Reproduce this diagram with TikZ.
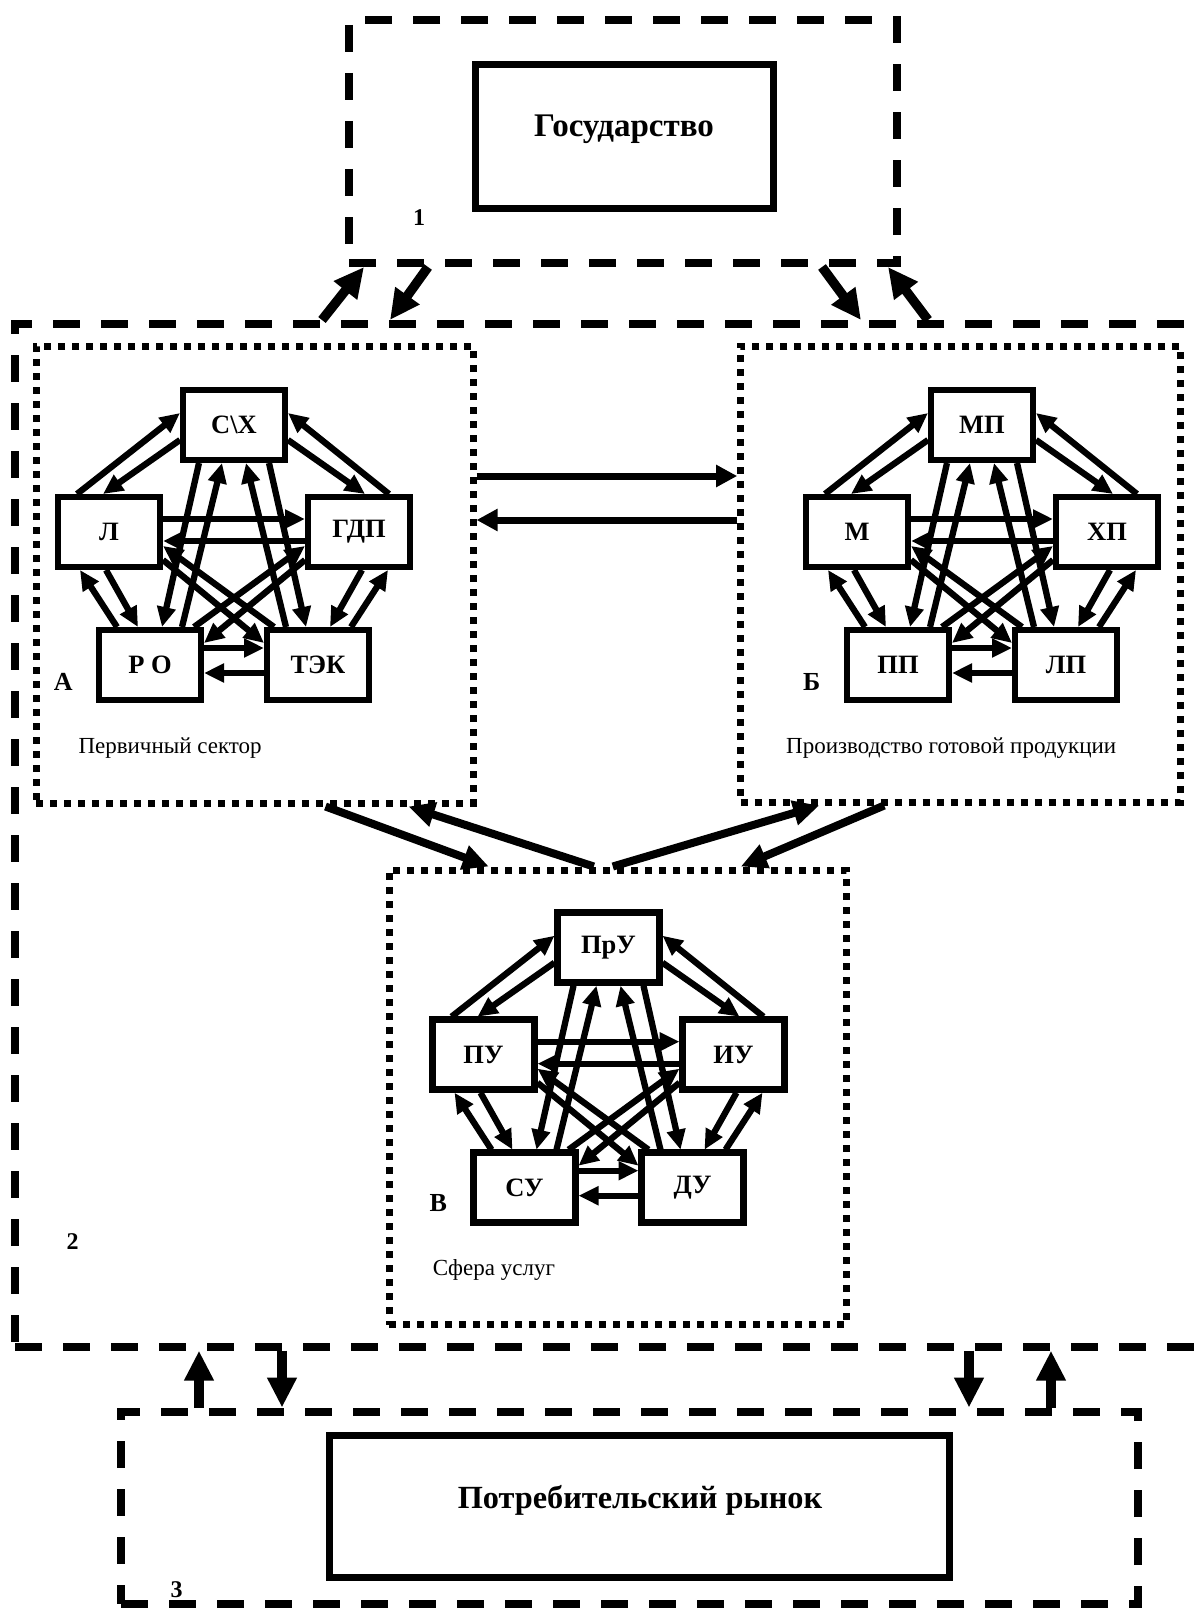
\documentclass[tikz,border=0pt]{standalone}
\usepackage{fontspec}
\setmainfont{Liberation Serif}
\usetikzlibrary{arrows.meta}

\tikzset{
  dashbox/.style={draw, line width=8pt, dash pattern=on 27pt off 21pt, inner sep=0pt},
  dotbox/.style={draw, line width=7pt, dash pattern=on 7pt off 7pt, inner sep=0pt},
  solidbox/.style={draw, line width=7pt, inner sep=0pt},
  unit/.style={draw, line width=6.5pt, minimum width=102pt, minimum height=70pt,
    inner sep=0pt, font=\fontsize{26.5}{31}\selectfont\bfseries},
  parr/.style={line width=6.3pt, -{Triangle[length=20pt,width=18pt]}},
  harr/.style={line width=7pt, -{Triangle[length=21pt,width=21pt]}},
  midarr/.style={line width=8pt, -{Triangle[length=26pt,width=24pt]}},
  bigarr/.style={line width=9.5pt, -{Triangle[length=30pt,width=28pt]}},
  bigtitle/.style={inner sep=0pt, anchor=base, font=\fontsize{33}{38}\selectfont\bfseries},
  levelno/.style={inner sep=0pt, font=\fontsize{24}{28}\selectfont\bfseries},
  groupno/.style={inner sep=0pt, font=\fontsize{26}{30}\selectfont\bfseries},
  caption/.style={inner sep=0pt, anchor=base west, font=\fontsize{23}{27}\selectfont},
}

% five branches of one sector, every pair linked both ways
% #1 name prefix, #2 centre of the top box, #3..#7 labels (top, left, right, bottom left, bottom right)
\newcommand\pentagroup[7]{%
  \node[unit] (#1t) at (#2) {#3};
  \node[unit] (#1l) at ([shift={(-125,107)}]#2) {#4};
  \node[unit] (#1r) at ([shift={(125,107)}]#2) {#5};
  \node[unit] (#1a) at ([shift={(-84,240)}]#2) {#6};
  \node[unit] (#1b) at ([shift={(84,240)}]#2) {#7};
  % top <-> left
  \draw[parr] ([shift={(-32,-38)}]#1l.center) -- ([shift={(-54,-12)}]#1t.center);
  \draw[parr] ([shift={(-54,15)}]#1t.center) -- ([shift={(-6,-38)}]#1l.center);
  % top <-> right
  \draw[parr] ([shift={(30,-38)}]#1r.center) -- ([shift={(54,-12)}]#1t.center);
  \draw[parr] ([shift={(54,15)}]#1t.center) -- ([shift={(6,-38)}]#1r.center);
  % left <-> bottom left
  \draw[parr] ([shift={(-33,-38)}]#1a.center) -- ([shift={(-29,38)}]#1l.center);
  \draw[parr] ([shift={(-3,38)}]#1l.center) -- ([shift={(-12,-38)}]#1a.center);
  % right <-> bottom right
  \draw[parr] ([shift={(33,-38)}]#1b.center) -- ([shift={(29,38)}]#1r.center);
  \draw[parr] ([shift={(3,38)}]#1r.center) -- ([shift={(12,-38)}]#1b.center);
  % left <-> right
  \draw[parr] ([shift={(54,-13)}]#1l.center) -- ([shift={(-54,-13)}]#1r.center);
  \draw[parr] ([shift={(-54,9)}]#1r.center) -- ([shift={(54,9)}]#1l.center);
  % bottom left <-> bottom right
  \draw[parr] ([shift={(54,-17)}]#1a.center) -- ([shift={(-54,-17)}]#1b.center);
  \draw[parr] ([shift={(-54,8)}]#1b.center) -- ([shift={(54,8)}]#1a.center);
  % top <-> bottom left
  \draw[parr] ([shift={(32,-38)}]#1a.center) -- ([shift={(-12,38)}]#1t.center);
  \draw[parr] ([shift={(-35,38)}]#1t.center) -- ([shift={(12,-38)}]#1a.center);
  % top <-> bottom right
  \draw[parr] ([shift={(-32,-38)}]#1b.center) -- ([shift={(12,38)}]#1t.center);
  \draw[parr] ([shift={(35,38)}]#1t.center) -- ([shift={(-12,-38)}]#1b.center);
  % left <-> bottom right
  \draw[parr] ([shift={(54,28)}]#1l.center) -- ([shift={(-54,-22)}]#1b.center);
  \draw[parr] ([shift={(-44,-38)}]#1b.center) -- ([shift={(54,14)}]#1l.center);
  % right <-> bottom left
  \draw[parr] ([shift={(-54,28)}]#1r.center) -- ([shift={(54,-22)}]#1a.center);
  \draw[parr] ([shift={(44,-38)}]#1a.center) -- ([shift={(-54,14)}]#1r.center);
}

\begin{document}
\begin{tikzpicture}[x=1pt,y=-1pt]
\useasboundingbox (0,0) rectangle (1195,1608);
\fill[white] (0,0) rectangle (1195,1608);
\clip (0,0) rectangle (1195,1608);

% three levels
\node[dashbox, minimum width=548pt, minimum height=243pt] (lvlone) at (623,141.5) {};
\node[dashbox, minimum width=1225pt, minimum height=1022.7pt] (lvltwo) at (627.5,835.35) {};
\node[dashbox, minimum width=1017pt, minimum height=192.5pt] (lvlthree) at (629.5,1507.75) {};

% state
\node[solidbox, minimum width=298pt, minimum height=144pt] (gov) at (624.5,136.5) {};
\node[bigtitle] (govtext) at (624,136.7) {Государство};
\node[levelno] (numone) at (419,218) {1};

% consumer market
\node[solidbox, minimum width=620pt, minimum height=142pt] (market) at (639.5,1506.5) {};
\node[bigtitle, font=\fontsize{32.3}{38}\selectfont\bfseries] (markettext) at (640,1508.3) {Потребительский рынок};
\node[levelno] (numthree) at (176.6,1590) {3};
\node[levelno] (numtwo) at (72.5,1241.5) {2};

% sectors
\node[dotbox, minimum width=437pt, minimum height=457pt] (secA) at (254.5,574.5) {};
\node[dotbox, minimum width=439.3pt, minimum height=456pt] (secB) at (960.35,574) {};
\node[dotbox, minimum width=457.2pt, minimum height=454.5pt] (secC) at (617.9,1097.25) {};

\pentagroup{A}{234,425}{С\textbackslash Х}{Л}{ГДП}{Р О}{ТЭК}
\pentagroup{B}{982,425}{МП}{М}{ХП}{ПП}{ЛП}
\pentagroup{C}{608.5,947.7}{ПрУ}{ПУ}{ИУ}{СУ}{ДУ}

\node[groupno] (letA) at (63.3,681.7) {А};
\node[groupno] (letB) at (811.7,681.7) {Б};
\node[groupno] (letC) at (438.3,1203.3) {В};

\node[caption] (capA) at (78.3,753.3) {Первичный сектор};
\node[caption] (capB) at (786,753.3) {Производство готовой продукции};
\node[caption] (capC) at (432.7,1275) {Сфера услуг};

% links between the sectors
\draw[harr] ([shift={(0,-98.5)}]secA.east) -- ([shift={(0,-98)}]secB.west);
\draw[harr] ([shift={(0,-54)}]secB.west) -- ([shift={(0,-54.5)}]secA.east);
\draw[midarr] ([shift={(293,0)}]secA.south west) -- ([shift={(103,0)}]secC.north west);
\draw[midarr] ([shift={(208,0)}]secC.north west) -- ([shift={(376,0)}]secA.south west);
\draw[midarr] ([shift={(227,0)}]secC.north west) -- ([shift={(82,0)}]secB.south west);
\draw[midarr] ([shift={(147,0)}]secB.south west) -- ([shift={(355,0)}]secC.north west);

% links between the levels
\draw[bigarr] ([shift={(311,0)}]lvltwo.north west) -- ([shift={(19,0)}]lvlone.south west);
\draw[bigarr] ([shift={(83,0)}]lvlone.south west) -- ([shift={(379,0)}]lvltwo.north west);
\draw[bigarr] ([shift={(477,0)}]lvlone.south west) -- ([shift={(850,0)}]lvltwo.north west);
\draw[bigarr] ([shift={(917,0)}]lvltwo.north west) -- ([shift={(543,0)}]lvlone.south west);
\draw[bigarr] ([shift={(82,0)}]lvlthree.north west) -- ([shift={(188,0)}]lvltwo.south west);
\draw[bigarr] ([shift={(271,0)}]lvltwo.south west) -- ([shift={(165,0)}]lvlthree.north west);
\draw[bigarr] ([shift={(958,0)}]lvltwo.south west) -- ([shift={(852,0)}]lvlthree.north west);
\draw[bigarr] ([shift={(934,0)}]lvlthree.north west) -- ([shift={(1040,0)}]lvltwo.south west);
\end{tikzpicture}
\end{document}
